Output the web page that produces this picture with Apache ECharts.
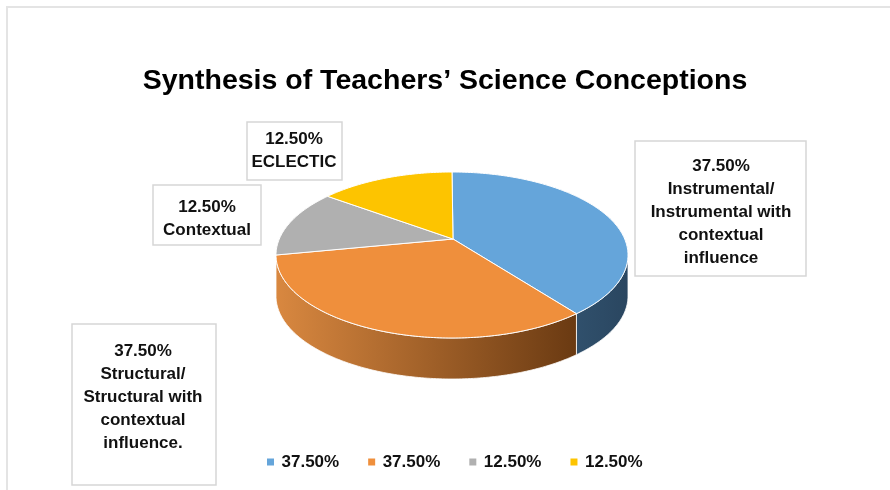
<!DOCTYPE html>
<html>
<head>
<meta charset="utf-8">
<title>Synthesis of Teachers’ Science Conceptions</title>
<script src="https://cdn.jsdelivr.net/npm/echarts@6/dist/echarts.min.js"></script>
<style>
  html, body { margin: 0; padding: 0; background: #fff; }
  #chart { width: 890px; height: 490px; }
</style>
</head>
<body>
<div id="chart"></div>
<script>
// data
const categories = [
    'Instrumental/\nInstrumental with\ncontextual\ninfluence',
    'Structural/\nStructural with\ncontextual\ninfluence.',
    'Contextual',
    'ECLECTIC'
];
const values = [37.5, 37.5, 12.5, 12.5];
const percentLabels = ['37.50%', '37.50%', '12.50%', '12.50%'];

// look
const topColors = ['#65a5da', '#ef8f3c', '#b0b0b0', '#fdc400'];
const sideColors = [
    ['#30506c', '#2a4660'],
    ['#d98840', '#6a3a12'],
    ['#7a7a7a', '#5a5a5a'],
    ['#b88a00', '#8a6700']
];
// label boxes: x, y, w, h and text centre
const labelBoxes = [
    { x: 635, y: 141, w: 171, h: 135, tx: 721, ty: 212 },
    { x: 72,  y: 324, w: 144, h: 161, tx: 143, ty: 397 },
    { x: 153, y: 185, w: 108, h: 60,  tx: 207, ty: 219 },
    { x: 247, y: 122, w: 95,  h: 58,  tx: 294, ty: 151 }
];

const FONT = '"Liberation Sans", Arial, sans-serif';
const CX = 452, CY = 255, RX = 176, RY = 83, DEPTH = 41;
const APEX = [453, 239];

const total = values.reduce((a, b) => a + b, 0);
const startAngles = [];
let acc = 0;
values.forEach(v => { startAngles.push(acc / total * 360); acc += v; });

function rimPoint(deg, dy) {
    const r = deg * Math.PI / 180;
    return [CX + RX * Math.sin(r), CY - RY * Math.cos(r) + (dy || 0)];
}

function arc(a0, a1, dy) {
    const pts = [];
    const n = Math.max(2, Math.ceil(Math.abs(a1 - a0)));
    for (let i = 0; i <= n; i++) pts.push(rimPoint(a0 + (a1 - a0) * i / n, dy));
    return pts;
}

function renderSlice(idx) {
    return function (params, api) {
        const a0 = startAngles[idx];
        const a1 = a0 + api.value(0) / total * 360;
        const children = [];

        // front wall, only the part facing the viewer
        const s = Math.max(a0, 90), e = Math.min(a1, 270);
        if (e > s) {
            children.push({
                type: 'polygon',
                shape: { points: arc(s, e, 0).concat(arc(e, s, DEPTH)) },
                style: {
                    fill: new echarts.graphic.LinearGradient(0, 0, 1, 0, [
                        { offset: 0, color: sideColors[idx][0] },
                        { offset: 1, color: sideColors[idx][1] }
                    ]),
                    stroke: '#ffffff',
                    lineWidth: 0.8
                }
            });
        }

        // top face
        children.push({
            type: 'polygon',
            shape: { points: [APEX].concat(arc(a0, a1, 0)) },
            style: { fill: topColors[idx], stroke: '#ffffff', lineWidth: 1 }
        });

        // label box
        const b = labelBoxes[idx];
        children.push({
            type: 'rect',
            shape: { x: b.x, y: b.y, width: b.w, height: b.h },
            style: { fill: '#ffffff', stroke: '#d6d6d6', lineWidth: 1.5 }
        });
        children.push({
            type: 'text',
            x: b.tx,
            y: b.ty,
            style: {
                text: percentLabels[idx] + '\n' + categories[idx],
                fontFamily: FONT,
                fontWeight: 'bold',
                fontSize: 17,
                lineHeight: 23,
                fill: '#111111',
                align: 'center',
                verticalAlign: 'middle'
            }
        });

        return { type: 'group', children: children };
    };
}

const chart = echarts.init(document.getElementById('chart'), null, { renderer: 'canvas' });
chart.setOption({
    animation: false,
    backgroundColor: '#ffffff',
    title: {
        text: 'Synthesis of Teachers’ Science Conceptions',
        left: 'center',
        top: 65,
        padding: 0,
        textStyle: {
            fontFamily: FONT,
            fontWeight: 'bold',
            fontSize: 28.5,
            lineHeight: 32,
            color: '#000000'
        }
    },
    legend: {
        data: categories,
        left: 262,
        top: 447,
        icon: 'path://M0,0H1V1H0Z',
        itemWidth: 12,
        itemHeight: 7,
        itemGap: 29,
        selectedMode: false,
        formatter: name => percentLabels[categories.indexOf(name)],
        textStyle: {
            fontFamily: FONT,
            fontWeight: 'bold',
            fontSize: 17,
            lineHeight: 20,
            color: '#111111'
        }
    },
    graphic: [
        {
            type: 'rect',
            z: -10,
            shape: { x: 7, y: 7, width: 900, height: 500 },
            style: { fill: '#ffffff', stroke: '#e4e4e4', lineWidth: 2 }
        }
    ],
    series: categories.map((name, i) => ({
        type: 'custom',
        name: name,
        coordinateSystem: 'none',
        itemStyle: { color: topColors[i] },
        data: [values[i]],
        renderItem: renderSlice(i)
    }))
});
</script>
</body>
</html>
